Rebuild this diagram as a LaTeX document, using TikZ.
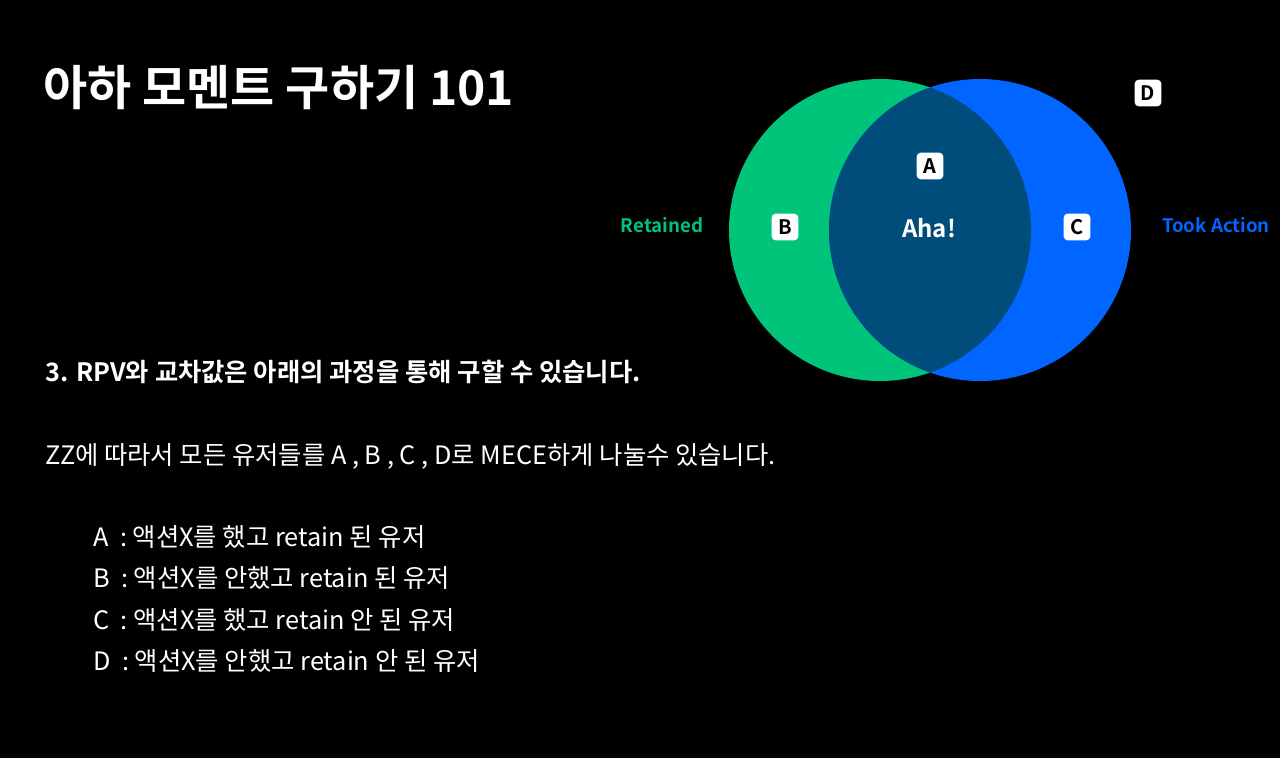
\documentclass[tikz,border=0pt]{standalone}
\usepackage{fontspec}
\setmainfont{Noto Sans CJK KR}
\newfontfamily\kb{Noto Sans CJK KR Bold}
\definecolor{vgreen}{HTML}{00C47A}
\definecolor{vblue}{HTML}{0066FF}
\definecolor{vmid}{HTML}{004C7A}
\begin{document}
\begin{tikzpicture}[x=0.75pt,y=-0.75pt,
 tag/.style={fill=white,rounded corners=3pt,text=black,font=\kb\fontsize{15}{15}\selectfont,minimum width=20pt,minimum height=20pt,inner sep=1pt},
 body/.style={text=white,anchor=west,font=\fontsize{19}{21}\selectfont,inner sep=0pt}]
\fill[black] (0,0) rectangle (1280,758);
\useasboundingbox (0,0) rectangle (1280,758);
\fill[vgreen] (880,230) circle[radius=151];
\fill[vblue] (980,230) circle[radius=151];
\begin{scope}
\clip (880,230) circle[radius=151];
\fill[vmid] (980,230) circle[radius=151];
\end{scope}
\node[tag] (A) at (930,166) {A};
\node[tag] (B) at (785,227) {B};
\node[tag] (C) at (1077,227) {C};
\node[tag] (D) at (1148,93) {D};
\node[text=white,font=\kb\fontsize{18}{18}\selectfont] (aha) at (929,228) {Aha!};
\node[text=vgreen,font=\kb\fontsize{14}{14}\selectfont] (ret) at (662,225) {Retained};
\node[text=vblue,font=\kb\fontsize{14}{14}\selectfont] (took) at (1216,225) {Took Action};
\node[text=white,anchor=west,inner sep=0pt,font=\kb\fontsize{36}{38}\selectfont] (title) at (43,88) {아하 모멘트 구하기 101};
\node[body,font=\kb\fontsize{19}{21}\selectfont] (l1) at (45,372) {3. RPV와 교차값은 아래의 과정을 통해 구할 수 있습니다.};
\node[body] (l2) at (45,456) {ZZ에 따라서 모든 유저들를 A , B , C , D로 MECE하게 나눌수 있습니다.};
\node[body] (la) at (93,537) {A\ \ : 액션X를 했고 retain 된 유저};
\node[body] (lb) at (93,578) {B\ \ : 액션X를 안했고 retain 된 유저};
\node[body] (lc) at (93,620) {C\ \ : 액션X를 했고 retain 안 된 유저};
\node[body] (ld) at (93,661) {D\ \ : 액션X를 안했고 retain 안 된 유저};
\end{tikzpicture}
\end{document}
